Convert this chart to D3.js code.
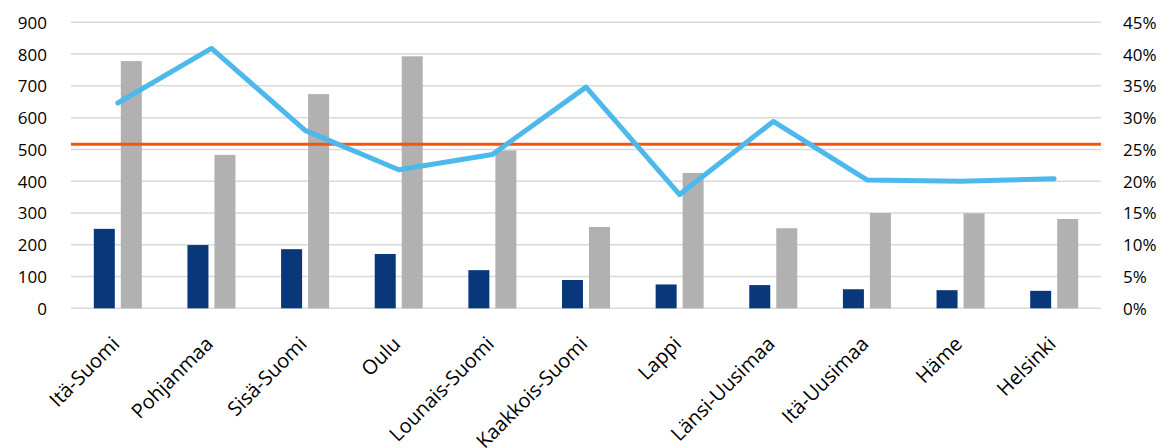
<!DOCTYPE html>
<html>
<head>
<meta charset="utf-8">
<script src="https://cdn.jsdelivr.net/npm/d3@7"></script>
<style>
  body { margin: 0; background: #fff; }
  text { font-family: "Open Sans", "Noto Sans", sans-serif; fill: #000; }
</style>
</head>
<body>
<div id="chart"></div>
<script>
const regions = ["Itä-Suomi", "Pohjanmaa", "Sisä-Suomi", "Oulu", "Lounais-Suomi",
  "Kaakkois-Suomi", "Lappi", "Länsi-Uusimaa", "Itä-Uusimaa", "Häme", "Helsinki"];
const darkValues = [250, 199, 186, 171, 120, 89, 75, 73, 60, 57, 55];
const grayValues = [778, 483, 674, 793, 497, 256, 426, 252, 300, 299, 281];
const shareValues = [0.323, 0.409, 0.280, 0.218, 0.242, 0.348, 0.179, 0.294, 0.202, 0.200, 0.204];
const referenceShare = 0.258;
const leftTicks = [0, 100, 200, 300, 400, 500, 600, 700, 800, 900];
const rightTicks = [0, 0.05, 0.1, 0.15, 0.2, 0.25, 0.3, 0.35, 0.4, 0.45];

const chart = { width: 1170, height: 448, top: 22.3, bottom: 308.3, left: 71, right: 1101 };

const svg = d3.select("#chart").append("svg")
  .attr("width", chart.width)
  .attr("height", chart.height);

const x = d3.scaleBand().domain(regions).range([chart.left, chart.right]);
const y = d3.scaleLinear().domain([0, 900]).range([chart.bottom, chart.top]);
const yPct = d3.scaleLinear().domain([0, 0.45]).range([chart.bottom, chart.top]);

// gridlines
svg.append("g")
  .selectAll("line")
  .data(leftTicks)
  .join("line")
  .attr("x1", chart.left)
  .attr("x2", chart.right)
  .attr("y1", d => y(d))
  .attr("y2", d => y(d))
  .attr("stroke", "#d9d9d9")
  .attr("stroke-width", 1.5);

// left axis
const leftAxis = svg.append("g")
  .attr("transform", `translate(${chart.left - 24}, 0)`)
  .call(d3.axisLeft(y).tickValues(leftTicks).tickSize(0).tickPadding(0));
leftAxis.select(".domain").remove();
leftAxis.selectAll("text").style("font-size", "17px").attr("dy", "0.35em");

// right axis
const rightAxis = svg.append("g")
  .attr("transform", `translate(${chart.right + 22}, 0)`)
  .call(d3.axisRight(yPct).tickValues(rightTicks).tickSize(0).tickPadding(0)
    .tickFormat(d3.format(".0%")));
rightAxis.select(".domain").remove();
rightAxis.selectAll("text").style("font-size", "17px").attr("dy", "0.35em");

// bars
const barW = 21;
const gap = 6;
svg.append("g")
  .selectAll("rect")
  .data(regions)
  .join("rect")
  .attr("x", d => x(d) + x.bandwidth() / 2 - gap / 2 - barW)
  .attr("y", (d, i) => y(darkValues[i]))
  .attr("width", barW)
  .attr("height", (d, i) => y(0) - y(darkValues[i]))
  .attr("fill", "#08377a");

svg.append("g")
  .selectAll("rect")
  .data(regions)
  .join("rect")
  .attr("x", d => x(d) + x.bandwidth() / 2 + gap / 2)
  .attr("y", (d, i) => y(grayValues[i]))
  .attr("width", barW)
  .attr("height", (d, i) => y(0) - y(grayValues[i]))
  .attr("fill", "#b1b1b1");

// reference line
svg.append("line")
  .attr("x1", chart.left)
  .attr("x2", chart.right)
  .attr("y1", yPct(referenceShare))
  .attr("y2", yPct(referenceShare))
  .attr("stroke", "#f0560f")
  .attr("stroke-width", 3);

// share line
const line = d3.line()
  .x((d, i) => x(regions[i]) + x.bandwidth() / 2)
  .y(d => yPct(d));

svg.append("path")
  .datum(shareValues)
  .attr("fill", "none")
  .attr("stroke", "#4db8ec")
  .attr("stroke-width", 5)
  .attr("stroke-linejoin", "round")
  .attr("stroke-linecap", "round")
  .attr("d", line);

// category labels
svg.append("g")
  .selectAll("text")
  .data(regions)
  .join("text")
  .attr("transform", d => `translate(${x(d) + x.bandwidth() / 2 - 2}, ${chart.bottom + 32}) rotate(-45)`)
  .attr("text-anchor", "end")
  .attr("dy", "0.35em")
  .style("font-size", "20px")
  .text(d => d);
</script>
</body>
</html>
